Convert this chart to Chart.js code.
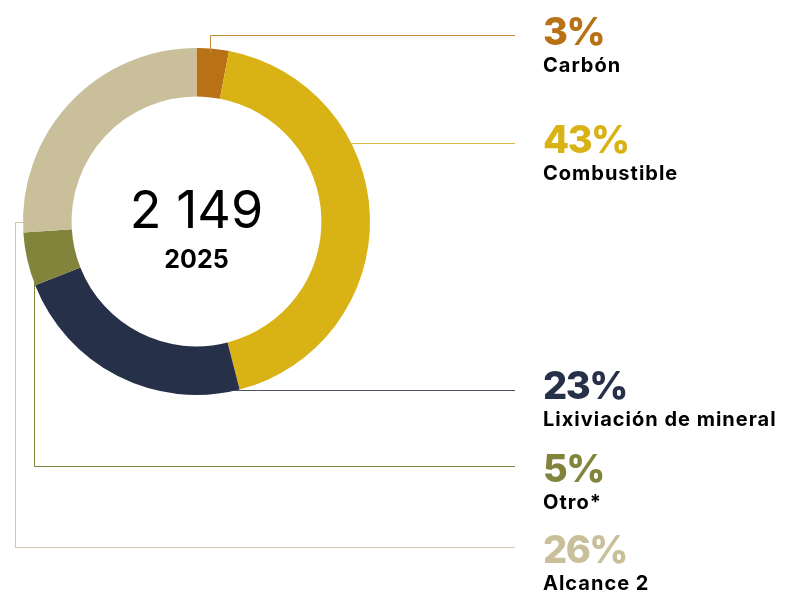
<!DOCTYPE html>
<html>
<head>
<meta charset="utf-8">
<script src="https://cdn.jsdelivr.net/npm/chart.js@4.4.1/dist/chart.umd.min.js"></script>
<style>
  html, body { margin: 0; padding: 0; background: #fff; }
  #wrap { width: 787px; height: 592px; position: relative; }
</style>
</head>
<body>
<div id="wrap"><canvas id="donutChart" width="787" height="592"></canvas></div>
<script>
const labels = ["Carbón", "Combustible", "Lixiviación de mineral", "Otro*", "Alcance 2"];
const shares = [3, 43, 23, 5, 26];
const colors = ["#b87114", "#d9b216", "#263048", "#83843c", "#c9c09b"];
const lineColors = ["#c48a3c", "#dcbb45", "#4b5268", "#84853e", "#cfc7a6"];
const totalValue = "2 149";
const yearLabel = "2025";

// y of the label blocks on the right (percent baseline)
const labelY = [45, 153, 399, 482, 563];
const textX = 543;
const lineEnd = 515;

const centerText = {
  id: "centerText",
  afterDraw(chart) {
    const arc = chart.getDatasetMeta(0).data[0];
    const ctx = chart.ctx;
    ctx.save();
    ctx.textAlign = "center";
    ctx.fillStyle = "#000";
    ctx.font = "400 52px Inter";
    ctx.fillText(totalValue, arc.x, arc.y + 6);
    ctx.font = "700 25px Inter";
    ctx.fillText(yearLabel, arc.x, arc.y + 46);
    ctx.restore();
  }
};

const leaders = {
  id: "leaders",
  afterDraw(chart) {
    const meta = chart.getDatasetMeta(0);
    const ctx = chart.ctx;
    const cx = meta.data[0].x, cy = meta.data[0].y, r = meta.data[0].outerRadius;
    ctx.save();
    ctx.lineWidth = 1;
    meta.data.forEach((arc, i) => {
      const pts = [];
      if (i === 0) {
        const mid = (arc.startAngle + arc.endAngle) / 2;
        const x = Math.round(cx + r * Math.cos(mid) - 3) + 0.5;
        pts.push([x, cy + r * Math.sin(mid) + 4], [x, 35.5], [lineEnd, 35.5]);
      } else if (i === 1 || i === 2) {
        const y = i === 1 ? 143.5 : 390.5;
        const x = cx + Math.sqrt(r * r - (y - cy) * (y - cy)) - 2;
        pts.push([x, y], [lineEnd, y]);
      } else if (i === 3) {
        const x = 34.5;
        const y = cy + Math.sqrt(r * r - (x - cx) * (x - cx)) - 6;
        pts.push([x, y], [x, 466.5], [lineEnd, 466.5]);
      } else {
        const y = 222.5;
        const x = cx - Math.sqrt(r * r - (y - cy) * (y - cy)) + 2;
        pts.push([x, y], [15.5, y], [15.5, 547.5], [lineEnd, 547.5]);
      }
      ctx.strokeStyle = lineColors[i];
      ctx.beginPath();
      pts.forEach((p, k) => k ? ctx.lineTo(p[0], p[1]) : ctx.moveTo(p[0], p[1]));
      ctx.stroke();

      ctx.textAlign = "left";
      ctx.fillStyle = colors[i];
      ctx.font = "800 38px Inter";
      ctx.letterSpacing = "-1.5px";
      ctx.fillText(shares[i] + "%", textX, labelY[i]);
      ctx.fillStyle = "#000";
      ctx.font = "700 20px Inter";
      ctx.letterSpacing = "1px";
      ctx.fillText(labels[i], textX, labelY[i] + 27);
    });
    ctx.restore();
  }
};

new Chart(document.getElementById("donutChart"), {
  type: "doughnut",
  data: {
    labels: labels,
    datasets: [{
      data: shares,
      backgroundColor: colors,
      borderWidth: 0
    }]
  },
  options: {
    responsive: false,
    animation: false,
    cutout: "72%",
    layout: { padding: { left: 23, top: 48, right: 417, bottom: 197 } },
    plugins: { legend: { display: false }, tooltip: { enabled: false } }
  },
  plugins: [centerText, leaders]
});
</script>
</body>
</html>
